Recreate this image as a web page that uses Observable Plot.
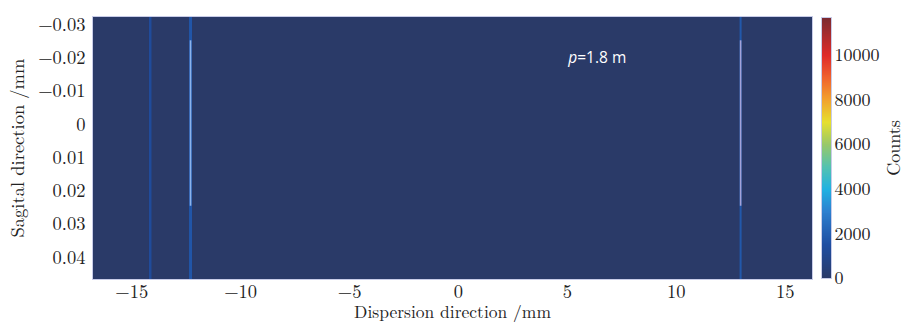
<!DOCTYPE html>
<html>
<head>
<meta charset="utf-8">
<script src="https://cdn.jsdelivr.net/npm/d3@7"></script>
<script src="https://cdn.jsdelivr.net/npm/@observablehq/plot@0.6"></script>
<style>
  body { margin: 0; background: #fff; }
  #wrap { position: relative; width: 905px; height: 322px; }
  #wrap svg { position: absolute; left: 0; top: 0; background: transparent; }
</style>
</head>
<body>
<div id="wrap"></div>
<script>
// ---- data ----
const xDomain = [-16.8, 16.25];          // dispersion direction (mm)
const yDomain = [-0.0325, 0.0465];       // sagittal direction (mm), top to bottom
const xTicks = [-15, -10, -5, 0, 5, 10, 15];
const yTicks = [-0.03, -0.02, -0.01, 0, 0.01, 0.02, 0.03, 0.04];
const countTicks = [0, 2000, 4000, 6000, 8000, 10000];
const countMax = 11700;

// full-height spectral lines (position mm, counts)
const linePos = [-14.15, -12.3, 12.95];
const lineCounts = [1300, 1700, 1800];
const lineWidth = [2.5, 3, 2];
// bright focused segments
const peakPos = [-12.3, 12.95];
const peakY1 = [-0.0252, -0.0252];
const peakY2 = [0.0245, 0.0245];
const peakColor = ["#8db2ea", "#a4a2d8"];

// annotation
const noteX = 5.45;
const noteY = -0.0201;

// muted jet colour map as seen in the picture
const cmapStops = [0, 1500, 3000, 4000, 5000, 6000, 7000, 8000, 9000, 10000, 11700];
const cmapColors = ["#2a3a68", "#1f4ea2", "#2d80d0", "#22b2e2", "#55c2b0", "#98c86a",
                    "#e6e030", "#f2a22e", "#f0622e", "#e02a2a", "#7a2a30"];

const serif = "'Latin Modern Roman', 'DejaVu Serif', serif";

const lines = linePos.map((p, i) => ({pos: p, counts: lineCounts[i], w: lineWidth[i]}));
const peaks = peakPos.map((p, i) => ({pos: p, y1: peakY1[i], y2: peakY2[i], c: peakColor[i]}));

const colorOpts = {type: "linear", domain: cmapStops, range: cmapColors, interpolate: "rgb"};
const minus = s => s.replace("-", "\u2212");

const main = Plot.plot({
  width: 905, height: 322,
  marginLeft: 92, marginRight: 93, marginTop: 16, marginBottom: 43,
  style: {fontFamily: serif, fontSize: "18.5px", color: "#222", background: "transparent"},
  x: {domain: xDomain},
  y: {domain: yDomain, reverse: true},
  color: colorOpts,
  marks: [
    Plot.frame({fill: cmapColors[0], stroke: null}),
    Plot.ruleX(lines, {x: "pos", stroke: "counts", strokeWidth: "w"}),
    Plot.ruleX(peaks, {x: "pos", y1: "y1", y2: "y2", stroke: "c", strokeWidth: 1.6}),
    Plot.text(["p"], {x: [noteX], y: [noteY], text: d => d, fill: "white", fontStyle: "italic",
      fontFamily: "'Open Sans', sans-serif", fontSize: 15.5, textAnchor: "end"}),
    Plot.text(["=1.8 m"], {x: [noteX], y: [noteY], text: d => d, fill: "white",
      fontFamily: "'Open Sans', sans-serif", fontSize: 15.5, textAnchor: "start"}),
    Plot.frame({stroke: "#c8cce8", strokeWidth: 1}),
    Plot.axisX({ticks: xTicks, tickSize: 0, tickPadding: 5, tickFormat: d => minus(String(d)),
      label: null, fontSize: 18.5}),
    Plot.axisX({ticks: [], label: "Dispersion direction /mm", labelAnchor: "center", labelArrow: "none",
      labelOffset: 38, fontSize: 17.5}),
    Plot.axisY({ticks: yTicks, tickSize: 0, tickPadding: 7, tickFormat: d => d === 0 ? "0" : minus(d.toFixed(2)),
      label: "Sagital direction /mm", labelAnchor: "center", labelArrow: "none", labelOffset: 82,
      fontSize: 18.5})
  ]
});

const bar = Plot.plot({
  width: 905, height: 322,
  marginLeft: 821, marginRight: 74, marginTop: 17, marginBottom: 44,
  style: {fontFamily: serif, fontSize: "18px", color: "#222", background: "transparent"},
  x: {domain: [0, 1], axis: null},
  y: {domain: [0, countMax]},
  color: colorOpts,
  marks: [
    Plot.raster({x1: 0, x2: 1, y1: 0, y2: countMax, width: 1, height: 263,
      fill: (x, y) => y, interpolate: "none", imageRendering: "auto"}),
    Plot.frame({stroke: "#c8cce8"}),
    Plot.axisY({anchor: "right", ticks: countTicks, tickSize: 0, tickPadding: 3, tickFormat: d => String(d),
      label: "Counts", labelAnchor: "center", labelArrow: "none", labelOffset: 68, fontSize: 18})
  ]
});

const wrap = document.getElementById("wrap");
wrap.appendChild(main);
wrap.appendChild(bar);
</script>
</body>
</html>
